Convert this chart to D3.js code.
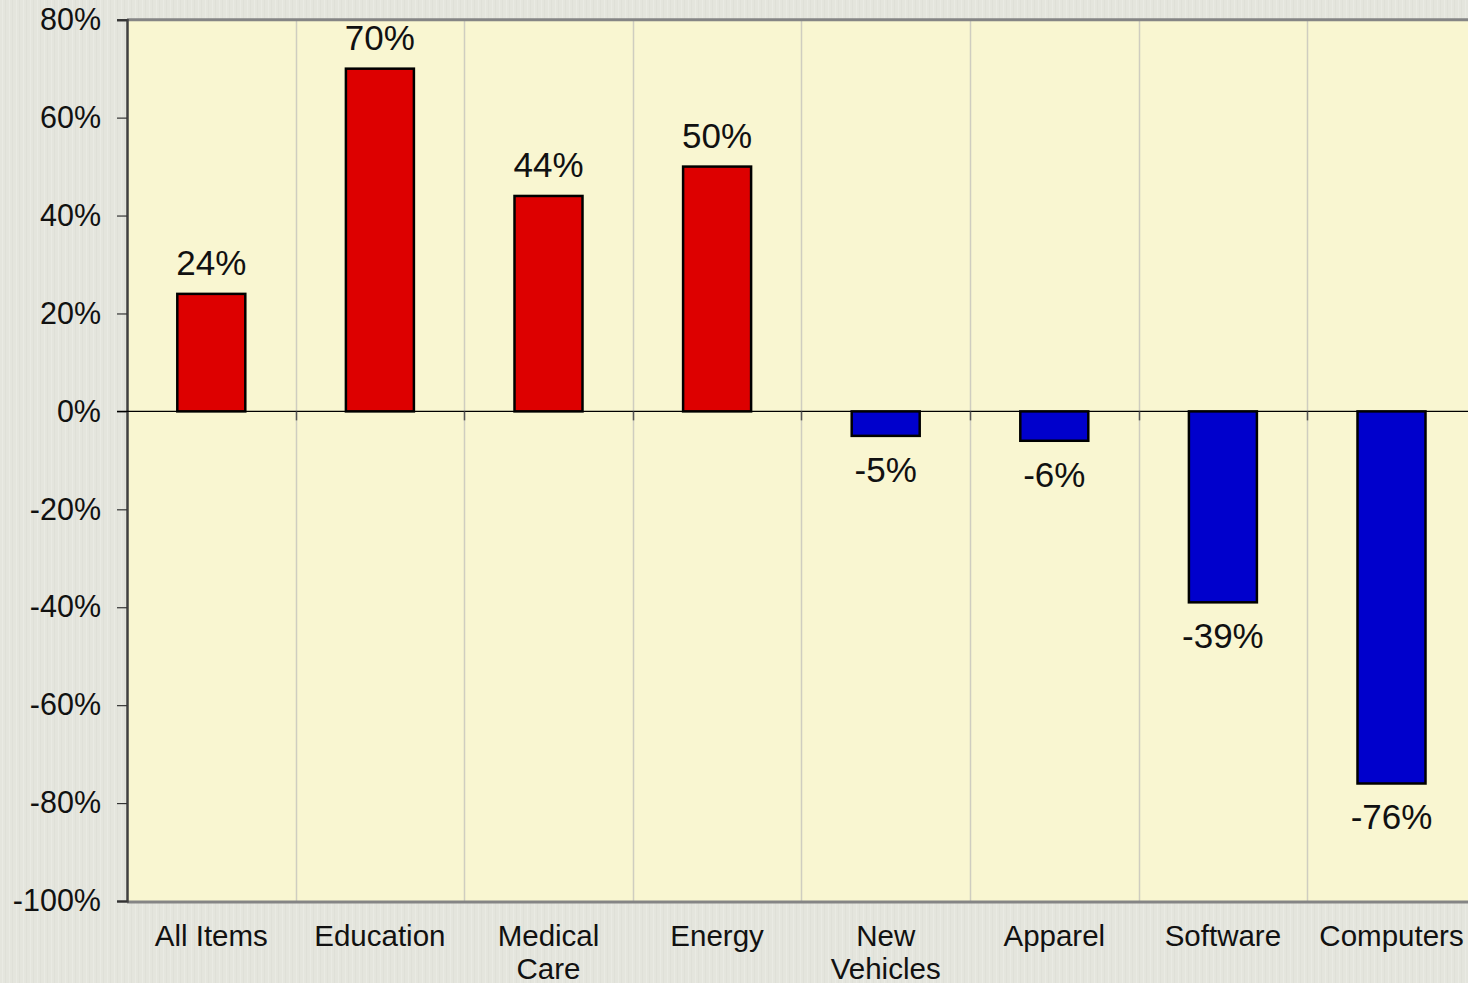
<!DOCTYPE html>
<html><head><meta charset="utf-8">
<script src="https://cdn.jsdelivr.net/npm/d3@7"></script>
<style>
html,body{margin:0;padding:0;background:#e4e5dd;}
svg{display:block;font-family:"Liberation Sans",Arial,sans-serif;}
</style></head>
<body>
<svg id="c" width="1468" height="983"></svg>
<script>
const categories = ["All Items","Education","Medical\nCare","Energy","New\nVehicles","Apparel","Software","Computers"];
const values = [24, 70, 44, 50, -5, -6, -39, -76];
const yTicks = [80, 60, 40, 20, 0, -20, -40, -60, -80, -100];

(function(){
const svg = d3.select("#c");
const W = 1468, H = 983;
const pLeft = 127, pTop = 19.7, pBottom = 901, bandW = 168.6;
const pRight = pLeft + bandW * categories.length;

// background texture (subtle vertical streaks)
const defs = svg.append("defs");
const pat = defs.append("pattern").attr("id","tex").attr("patternUnits","userSpaceOnUse").attr("width",7).attr("height",983);
pat.append("rect").attr("width",7).attr("height",983).attr("fill","#e4e5dd");
pat.append("rect").attr("x",2).attr("width",1).attr("height",983).attr("fill","#e9eae3");
pat.append("rect").attr("x",5).attr("width",1).attr("height",983).attr("fill","#dfe0d8");
svg.append("rect").attr("width",W).attr("height",H).attr("fill","url(#tex)");

const x = d3.scaleBand().domain(categories).range([pLeft, pRight]).paddingInner(0).paddingOuter(0);
const y = d3.scaleLinear().domain([-100, 80]).range([pBottom, pTop]);

// plot area
svg.append("rect").attr("x", pLeft).attr("y", y(80)).attr("width", pRight - pLeft).attr("height", y(-100) - y(80)).attr("fill", "#f9f6d1");

// vertical gridlines at band boundaries
svg.append("g").selectAll("line").data(categories.slice(1)).join("line")
  .attr("x1", d => Math.round(x(d)) + 0.5).attr("x2", d => Math.round(x(d)) + 0.5)
  .attr("y1", y(80)).attr("y2", y(-100))
  .attr("stroke", "#cfcdc0").attr("stroke-width", 1.5);

// top and bottom borders
svg.append("line").attr("x1", pLeft).attr("x2", W).attr("y1", y(80)).attr("y2", y(80)).attr("stroke", "#858585").attr("stroke-width", 3);
svg.append("line").attr("x1", pLeft).attr("x2", W).attr("y1", y(-100)+1).attr("y2", y(-100)+1).attr("stroke", "#858585").attr("stroke-width", 3);

// y axis
const yAxis = d3.axisLeft(y).tickValues(yTicks).tickSize(10).tickPadding(16).tickFormat(d => d + "%");
const gy = svg.append("g").attr("transform", `translate(${pLeft},0)`).call(yAxis);
gy.select(".domain").attr("stroke", "#404040").attr("stroke-width", 2.5);
gy.selectAll(".tick line").attr("stroke", "#333").attr("stroke-width", 1.2);
gy.selectAll(".tick text").attr("font-size", 30.5).attr("fill", "#111").attr("font-family", "Liberation Sans, Arial, sans-serif");

// bars
const barW = 68;
svg.append("g").selectAll("rect").data(values).join("rect")
  .attr("x", (d, i) => x(categories[i]) + x.bandwidth() / 2 - barW / 2)
  .attr("y", d => y(Math.max(0, d)))
  .attr("width", barW)
  .attr("height", d => Math.abs(y(d) - y(0)))
  .attr("fill", d => d >= 0 ? "#dd0000" : "#0000cc")
  .attr("stroke", "#000").attr("stroke-width", 2.5);

// zero line
svg.append("line").attr("x1", pLeft - 10).attr("x2", W).attr("y1", y(0)).attr("y2", y(0)).attr("stroke", "#000").attr("stroke-width", 1.3);
// small category ticks on zero line
svg.append("g").selectAll("line").data(categories.slice(1)).join("line")
  .attr("x1", d => Math.round(x(d)) + 0.5).attr("x2", d => Math.round(x(d)) + 0.5)
  .attr("y1", y(0)).attr("y2", y(0) + 9)
  .attr("stroke", "#555").attr("stroke-width", 1.5);

// data labels
svg.append("g").selectAll("text").data(values).join("text")
  .attr("x", (d, i) => x(categories[i]) + x.bandwidth() / 2)
  .attr("y", d => d >= 0 ? y(d) - 19 : y(d) + 46)
  .attr("text-anchor", "middle")
  .attr("font-size", 35).attr("fill", "#111")
  .text(d => d + "%");

// category labels
const gx = svg.append("g");
categories.forEach((c, i) => {
  const t = gx.append("text").attr("x", x(c) + x.bandwidth() / 2).attr("y", 946)
    .attr("text-anchor", "middle").attr("font-size", 29.5).attr("fill", "#111");
  c.split("\n").forEach((ln, j) => {
    t.append("tspan").attr("x", x(c) + x.bandwidth() / 2).attr("dy", j === 0 ? 0 : 33).text(ln);
  });
});
})();
</script>
</body></html>
